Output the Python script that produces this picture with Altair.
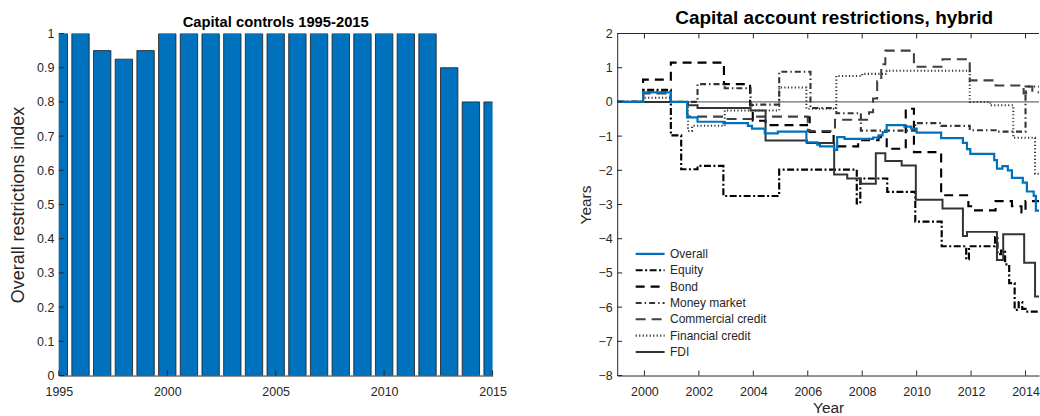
import altair as alt
import pandas as pd

FONT = "Liberation Sans"
INK = "#262626"
BLUE = "#0072BD"

# ---------------- Left panel: capital controls index by year ----------------
bar_years = list(range(1995, 2016))
bar_index = [1.0, 1.0, 0.95, 0.925, 0.95,
             1.0, 1.0, 1.0, 1.0, 1.0, 1.0, 1.0, 1.0, 1.0, 1.0, 1.0, 1.0, 1.0,
             0.9, 0.8, 0.8]
bar_x_ticks = [1995, 2000, 2005, 2010, 2015]
bar_y_ticks = [0, 0.1, 0.2, 0.3, 0.4, 0.5, 0.6, 0.7, 0.8, 0.9, 1.0]

# ---------------- Right panel: hybrid restriction series (years) ------------
series_names = ["Overall", "Equity", "Bond", "Money market",
                "Commercial credit", "Financial credit", "FDI"]

overall_t = [1999.0, 1999.95, 2000.97, 2001.57, 2001.95, 2002.9, 2003.8, 2003.95,
             2004.42, 2004.9, 2005.95, 2006.35, 2006.45, 2006.97, 2007.08, 2007.35,
             2008.4, 2008.6, 2008.75, 2008.9, 2009.55, 2009.8, 2010.0, 2010.9,
             2011.7, 2011.85, 2011.97, 2012.85, 2012.95, 2013.15, 2013.35, 2013.5,
             2013.9, 2014.05, 2014.3, 2014.38, 2014.6]
overall_v = [0.0, 0.28, 0.0, -0.45, -0.58, -0.62, -0.7, -0.78,
             -0.92, -0.87, -1.18, -1.25, -1.3, -1.4, -1.03, -1.08,
             -1.04, -0.98, -0.88, -0.68, -0.72, -0.78, -0.9, -1.06,
             -1.2, -1.38, -1.52, -1.7, -1.95, -1.88, -2.0, -2.22,
             -2.36, -2.62, -2.75, -3.18, -3.18]

equity_t = [1999.0, 1999.95, 2000.97, 2001.35, 2001.95, 2002.9, 2004.95, 2007.8,
            2007.93, 2008.92, 2009.95, 2010.92, 2011.82, 2011.92, 2012.88, 2012.97,
            2013.1, 2013.25, 2013.4, 2013.6, 2013.75, 2013.88, 2014.0, 2014.6]
equity_v = [0.0, 0.35, -0.98, -1.97, -1.87, -2.75, -1.98, -2.97,
            -2.24, -2.63, -3.5, -4.22, -4.6, -4.22, -3.95, -4.45,
            -4.35, -4.75, -5.3, -6.08, -5.85, -6.05, -6.13, -6.13]

bond_t = [1999.0, 1999.95, 2000.97, 2002.92, 2003.88, 2003.98, 2004.45, 2005.97,
          2006.07, 2006.95, 2007.85, 2008.6, 2008.9, 2009.6, 2009.9, 2010.9,
          2011.9, 2012.0, 2012.9, 2013.5, 2013.85, 2014.0, 2014.6]
bond_v = [0.0, 0.65, 1.15, 0.52, -0.1, -0.55, -0.68, -0.45,
          -0.88, -1.3, -1.12, -1.03, -1.37, -0.2, -1.47, -2.73,
          -3.05, -3.17, -2.9, -3.05, -3.23, -2.9, -2.9]

money_t = [1999.0, 1999.95, 2000.97, 2001.95, 2002.95, 2003.9, 2004.95, 2006.1,
           2007.05, 2007.95, 2009.95, 2010.9, 2011.95, 2012.9, 2014.0, 2014.6]
money_v = [0.0, 0.3, 0.0, 0.52, 0.4, -0.08, 0.88, -0.18,
           -0.33, -0.84, -0.62, -0.7, -0.83, -0.87, 0.45, 0.45]

commercial_t = [1999.0, 1999.95, 2000.97, 2001.57, 2003.0, 2004.0, 2006.0, 2007.0,
                2008.25, 2008.4, 2008.55, 2008.7, 2008.85, 2009.9, 2010.95, 2011.95,
                2012.9, 2013.93, 2014.02, 2014.25, 2014.6]
commercial_v = [0.0, 0.25, 0.0, -0.43, -0.5, -0.43, -0.85, -0.52,
                -0.3, 0.1, 0.6, 1.1, 1.5, 1.03, 1.25, 0.63,
                0.48, 0.25, 0.45, 0.28, 0.28]

financial_t = [1999.0, 1999.95, 2000.97, 2001.6, 2001.75, 2002.95, 2004.95, 2005.95,
               2007.05, 2008.0, 2008.9, 2011.95, 2012.7, 2013.55, 2014.35, 2014.6]
financial_v = [0.0, 0.12, 0.0, -0.85, -0.7, -0.25, 0.42, -0.2,
               0.76, 0.82, 0.91, 0.0, -0.1, -1.05, -2.1, -2.1]

fdi_t = [1999.0, 2001.6, 2001.95, 2003.9, 2004.45, 2005.97, 2006.97, 2007.45,
         2007.95, 2008.5, 2008.85, 2009.45, 2009.97, 2010.95, 2011.7, 2011.85,
         2012.95, 2013.18, 2013.95, 2014.35, 2014.6]
fdi_v = [0.0, -0.1, -0.18, -0.25, -1.13, -1.2, -2.12, -2.24,
         -2.39, -1.5, -1.73, -1.86, -2.86, -3.12, -3.92, -3.8,
         -4.62, -3.87, -4.7, -5.69, -5.69]

line_x_ticks = [2000, 2002, 2004, 2006, 2008, 2010, 2012, 2014]
line_y_ticks = [-8, -7, -6, -5, -4, -3, -2, -1, 0, 1, 2]

# line styles, one per series (same order as series_names)
series_colors = [BLUE, "#000000", "#000000", "#333333", "#404040", "#333333", "#333333"]
series_dashes = [[1, 0], [7, 2.5, 2, 2.5], [9, 6], [6, 3, 1.5, 3], [10, 6], [1.2, 2.3], [1, 0]]
series_widths = [2.2, 2.0, 2.0, 0.9, 0.9, 0.9, 0.9]

# ---------------- tables ----------------
bar_df = pd.DataFrame({"year": bar_years, "index": bar_index})

pairs = [(overall_t, overall_v), (equity_t, equity_v), (bond_t, bond_v),
         (money_t, money_v), (commercial_t, commercial_v),
         (financial_t, financial_v), (fdi_t, fdi_v)]
rows = []
for name, (ts, vs) in zip(series_names, pairs):
    for t, v in zip(ts, vs):
        rows.append({"series": name, "year": t, "value": v})
lines_df = pd.DataFrame(rows)

W1, W2, H = 435, 423, 343

# ---------------- left panel ----------------
lx = alt.Scale(domain=[1995, 2015], nice=False, zero=False)
ly = alt.Scale(domain=[0, 1], nice=False)
lx_axis = alt.Axis(values=bar_x_ticks, format="d", title=None, labelFlush=False,
                   labelPadding=10)
ly_axis = alt.Axis(values=bar_y_ticks, format="~g", title="Overall restrictions index",
                   titleFontSize=18, titlePadding=9, labelPadding=5)

bars = alt.Chart(bar_df).transform_calculate(
    lo="datum.year - 0.4", hi="datum.year + 0.4"
).mark_bar(clip=True, fill=BLUE, stroke="#1a1a1a", strokeWidth=0.8).encode(
    x=alt.X("lo:Q", scale=lx, axis=lx_axis),
    x2="hi:Q",
    y=alt.Y("index:Q", scale=ly, axis=ly_axis),
    y2=alt.datum(0),
)
left_xt = alt.Chart(pd.DataFrame({"lo": bar_x_ticks})).mark_rule(color=INK, strokeWidth=1).encode(
    x=alt.X("lo:Q", scale=lx, axis=lx_axis), y=alt.value(H), y2=alt.value(H - 5))
left_yt = alt.Chart(pd.DataFrame({"index": bar_y_ticks})).mark_rule(color=INK, strokeWidth=1).encode(
    y=alt.Y("index:Q", scale=ly, axis=ly_axis), x=alt.value(0), x2=alt.value(5))

left = alt.layer(bars, left_xt, left_yt).properties(
    width=W1, height=H,
    title=alt.TitleParams("Capital controls 1995-2015", fontSize=14.8, fontWeight="bold",
                          frame="group", offset=-2, color="#000000"),
)

# ---------------- right panel ----------------
rx = alt.Scale(domain=[1999, 2014.495], nice=False, zero=False)
ry = alt.Scale(domain=[-8, 2], nice=False)
rx_axis = alt.Axis(values=line_x_ticks, format="d", title="Year", labelFlush=False,
                   labelPadding=10, titleFontSize=15.5, titlePadding=3)
ry_axis = alt.Axis(values=line_y_ticks, format="d", title="Years", titleFontSize=15.5,
                   titlePadding=5, labelPadding=5)

legend = alt.Legend(orient="none", legendX=17, legendY=213, title=None,
                    symbolType="stroke", symbolSize=841, clipHeight=16, rowPadding=0.4,
                    labelFontSize=12, labelFont=FONT, labelColor=INK, labelOffset=4,
                    padding=0, direction="vertical")

color_enc = alt.Color("series:N", scale=alt.Scale(domain=series_names, range=series_colors),
                      legend=legend)
dash_enc = alt.StrokeDash("series:N", scale=alt.Scale(domain=series_names, range=series_dashes),
                          legend=legend)
width_enc = alt.StrokeWidth("series:N", scale=alt.Scale(domain=series_names, range=series_widths),
                            legend=legend)

base = alt.Chart(lines_df).mark_line(interpolate="step-after", clip=True).encode(
    x=alt.X("year:Q", scale=rx, axis=rx_axis),
    y=alt.Y("value:Q", scale=ry, axis=ry_axis),
    color=color_enc, strokeDash=dash_enc, strokeWidth=width_enc,
    detail="series:N",
)
others = base.transform_filter("datum.series != 'Overall'")
overall = base.transform_filter("datum.series == 'Overall'")

zero_line = alt.Chart(pd.DataFrame({"value": [0]})).mark_rule(color="#333333", strokeWidth=0.9).encode(
    y=alt.Y("value:Q", scale=ry, axis=ry_axis))
top_line = alt.Chart(pd.DataFrame({"year": [1999]})).mark_rule(color=INK, strokeWidth=1).encode(
    x=alt.value(0), x2=alt.value(W2), y=alt.value(0))
ticks_df = pd.DataFrame({"year": line_x_ticks})
bottom_ticks = alt.Chart(ticks_df).mark_rule(color=INK, strokeWidth=1).encode(
    x=alt.X("year:Q", scale=rx, axis=rx_axis), y=alt.value(H), y2=alt.value(H - 5))
top_ticks = alt.Chart(ticks_df).mark_rule(color=INK, strokeWidth=1).encode(
    x=alt.X("year:Q", scale=rx, axis=rx_axis), y=alt.value(0), y2=alt.value(5))
side_ticks = alt.Chart(pd.DataFrame({"value": line_y_ticks})).mark_rule(color=INK, strokeWidth=1).encode(
    y=alt.Y("value:Q", scale=ry, axis=ry_axis), x=alt.value(0), x2=alt.value(5))

right = alt.layer(zero_line, others, overall, top_line, bottom_ticks, top_ticks, side_ticks).properties(
    width=W2, height=H,
    title=alt.TitleParams("Capital account restrictions, hybrid", fontSize=19,
                          fontWeight="bold", frame="group", offset=0, dx=6, color="#000000"),
)

chart = alt.hconcat(left, right, spacing=125, bounds="flush").resolve_legend(
    color="independent", strokeDash="independent", strokeWidth="independent"
).properties(
    padding={"left": 9, "top": 8, "right": 0, "bottom": 0},
    background="white",
).configure_view(stroke=None).configure_axis(
    grid=False, ticks=False, tickSize=0,
    domainColor=INK, domainWidth=1,
    labelColor=INK, labelFont=FONT, labelFontSize=12.5,
    titleColor=INK, titleFont=FONT, titleFontWeight="normal",
).configure_title(font=FONT)

chart.save("out.html", embed_options={"renderer": "svg", "actions": False})
